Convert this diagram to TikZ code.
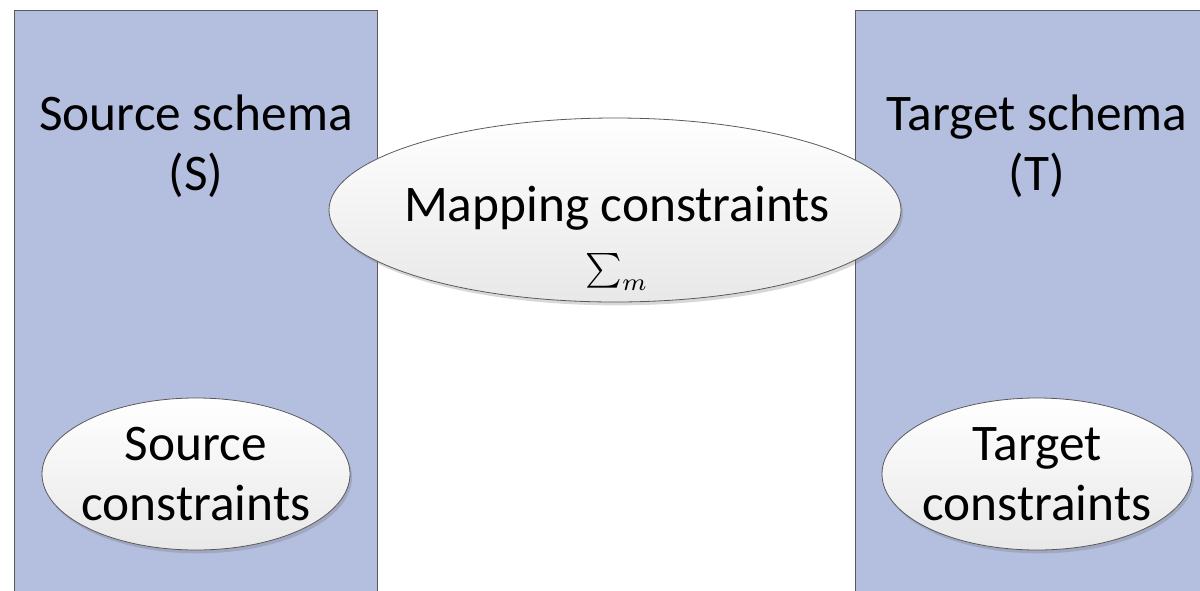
\documentclass[tikz,border=0pt]{standalone}
\usepackage{fontspec}
\setmainfont{Carlito}
\usetikzlibrary{shadows,shapes.geometric}
\definecolor{schemafill}{HTML}{B4BEDF}
\definecolor{edgegray}{HTML}{5A5A5A}
\tikzset{
  schemabox/.style={fill=schemafill, draw=edgegray, line width=0.6pt},
  bigtext/.style={align=center, font=\fontsize{38.5}{45}\selectfont, inner sep=0pt},
  consellipse/.style={ellipse, draw=edgegray, line width=0.6pt,
    top color=white, bottom color=black!9, inner sep=0pt,
    drop shadow={shadow xshift=1.5pt, shadow yshift=-2.5pt, opacity=0.25, fill=black!60}},
}
\begin{document}
\begin{tikzpicture}[x=0.75pt, y=-0.75pt]
  \useasboundingbox (0,0) rectangle (1200,590);
  \fill[white] (0,0) rectangle (1200,590);
  \clip (0,0) rectangle (1200,590);

  % the two schemas
  \draw[schemabox] (14,10) rectangle (377,610);
  \draw[schemabox] (855,10) rectangle (1220,610);
  \node[bigtext] (S) at (196,146) {Source schema\\(S)};
  \node[bigtext] (T) at (1037,146) {Target schema\\(T)};

  % mapping constraints between the schemas
  \node[consellipse, minimum width=429pt, minimum height=138pt] (M) at (615,210) {};
  \node[bigtext] (Mtext) at (617,238)
    {Mapping constraints\\[-1pt]{\fontsize{10}{12}\selectfont\scalebox{2.6}{$\sum_{m}$}}};

  % constraints inside each schema
  \node[consellipse, minimum width=231pt, minimum height=114pt] (SC) at (196,474) {};
  \node[bigtext] (SCtext) at (196,474) {Source\\constraints};
  \node[consellipse, minimum width=232.5pt, minimum height=114pt] (TC) at (1037,474) {};
  \node[bigtext] (TCtext) at (1037,474) {Target\\constraints};
\end{tikzpicture}
\end{document}
